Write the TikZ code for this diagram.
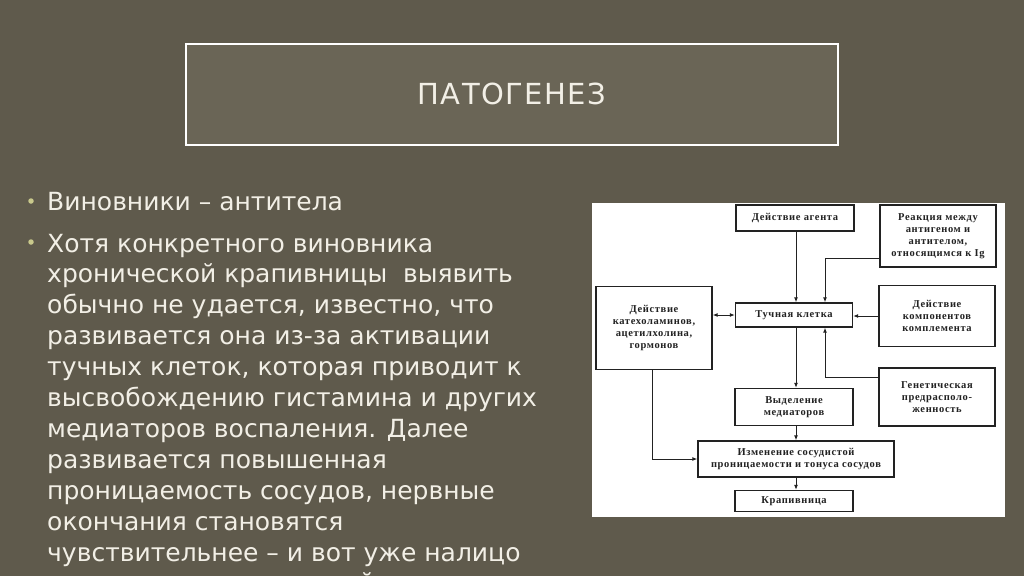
\documentclass[tikz,border=0pt]{standalone}
\usepackage{fontspec}
\setmainfont{DejaVu Sans}
\newfontfamily\titlefont[LetterSpace=5]{DejaVu Sans}
\newfontfamily\scanfont[LetterSpace=6]{Liberation Serif}
\usetikzlibrary{arrows.meta,positioning}
\definecolor{slidebg}{HTML}{5F5A4C}
\definecolor{titlefill}{HTML}{6A6556}
\definecolor{slidetext}{HTML}{F2EFE6}
\definecolor{bulletcol}{HTML}{C9C98C}
\definecolor{scanink}{HTML}{222222}

\begin{document}
\begin{tikzpicture}[x=1pt,y=-1pt,
    bodytext/.style={anchor=base west,inner sep=0pt,text=slidetext,
      font=\fontsize{25}{30}\selectfont},
    bulletdot/.style={circle,fill=bulletcol,inner sep=0pt,minimum size=5.5pt},
    scanbox/.style={draw=scanink,line width=1.3pt,fill=white,text=scanink,
      align=center,inner sep=1pt,font=\scanfont\bfseries\fontsize{10.5}{12}\selectfont},
    scanarrow/.style={draw=scanink,line width=1pt,-{Latex[length=5pt,width=4pt]}}]
    \fill[slidebg] (0,0) rectangle (1024,576);
    \useasboundingbox (0,0) rectangle (1024,576);
    \clip (0,0) rectangle (1024,576);
    % title
    \node[draw=white,line width=2pt,fill=titlefill,minimum width=652pt,
      minimum height=101pt,text=slidetext] (title) at (512,94)
      {\titlefont\fontsize{29}{29}\selectfont ПАТОГЕНЕЗ};
    % bullets
    \node[bulletdot] (dotA) at (31,201) {};
    \node[bulletdot] (dotB) at (31,242) {};
    \node[bodytext] (lineA) at (47,210) {Виновники – антитела};
    \foreach \txt [count=\i] in {{Хотя конкретного виновника},
        {хронической крапивницы \ выявить},
        {обычно не удается, известно, что},
        {развивается она из-за активации},
        {тучных клеток, которая приводит к},
        {высвобождению гистамина и других},
        {медиаторов воспаления. Далее},
        {развивается повышенная},
        {проницаемость сосудов, нервные},
        {окончания становятся},
        {чувствительнее – и вот уже налицо},
        {отеки различных тканей, волдыри и}}
        \node[bodytext] (line\i) at (47,252+30.9*\i-30.9) {\txt};
    % scheme
    \fill[white] (592,203) rectangle (1005,517);
    \node[scanbox,minimum width=118pt,minimum height=26pt] (agent) at (795,218) {Действие агента};
    \node[scanbox,minimum width=116pt,minimum height=62pt] (reac) at (938,236)
      {Реакция между\\антигеном и\\антителом,\\относящимся к Ig};
    \node[scanbox,minimum width=116pt,minimum height=83pt] (cate) at (654,328)
      {Действие\\катехоламинов,\\ацетилхолина,\\гормонов};
    \node[scanbox,minimum width=117pt,minimum height=24pt] (mast) at (794,315) {Тучная клетка};
    \node[scanbox,minimum width=116pt,minimum height=61pt] (compl) at (937,316)
      {Действие\\компонентов\\комплемента};
    \node[scanbox,minimum width=116pt,minimum height=58pt] (genet) at (937,397)
      {Генетическая\\предрасполо-\\женность};
    \node[scanbox,minimum width=118pt,minimum height=37pt] (medi) at (794,407)
      {Выделение\\медиаторов};
    \node[scanbox,minimum width=196pt,minimum height=36pt] (vasc) at (796,459)
      {Изменение сосудистой\\проницаемости и тонуса сосудов};
    \node[scanbox,minimum width=118pt,minimum height=21pt] (urti) at (794,501) {Крапивница};
    \draw[scanarrow] ([xshift=1pt]agent.south) -- ([xshift=2pt]mast.north);
    \draw[scanarrow] ([yshift=-22pt]reac.west) -| ([xshift=31pt]mast.north);
    \draw[scanarrow] (compl.west) -- (compl.west -| mast.east);
    \draw[scanarrow] ([yshift=20pt]genet.west) -| ([xshift=31pt]mast.south);
    \draw[scanarrow,{Latex[length=5pt,width=4pt]}-{Latex[length=5pt,width=4pt]}]
      (mast.west) -- (mast.west -| cate.east);
    \draw[scanarrow] ([xshift=2pt]mast.south) -- ([xshift=2pt]medi.north);
    \draw[scanarrow] ([xshift=2pt]medi.south) -- (vasc.north);
    \draw[scanarrow] ([xshift=-2pt]cate.south) |- (vasc.west);
    \draw[scanarrow] (vasc.south) -- ([xshift=2pt]urti.north);
\end{tikzpicture}
\end{document}
